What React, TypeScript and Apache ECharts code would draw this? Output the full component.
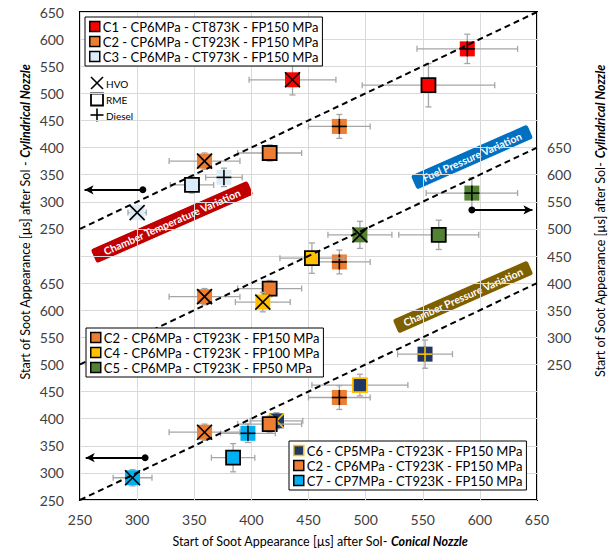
import React, { useEffect, useRef } from 'react';
import * as echarts from 'echarts';

const FONT = 'Lato, "Open Sans", sans-serif';
const FUELS = ['HVO', 'RME', 'Diesel'];

// Axis ranges (each panel spans 250..650 µs on its own axis)
const X_MIN = 250;
const X_MAX = 650;
const TICK = 50;
const STACK_MAX = 900; // stacked y domain: bottom 0..400, middle 250..650, top 500..900
const OFFSET_TOP = 250;
const OFFSET_MID = 0;
const OFFSET_BOT = -250;

// ---------- Panel 1 : Chamber temperature variation (left axis, top) ----------
const c1Name = 'C1 - CP6MPa - CT873K - FP150 MPa';
const c1Fuel = ['HVO', 'RME', 'Diesel'];
const c1X = [436, 555, 589];
const c1Y = [525, 515, 582];
const c1XErr = [38, 58, 44];
const c1YErr = [28, 40, 27];

const c2Name = 'C2 - CP6MPa - CT923K - FP150 MPa';
const c2Fuel = ['HVO', 'RME', 'Diesel'];
const c2X = [359, 416, 477];
const c2Y = [375, 390, 439];
const c2XErr = [31, 28, 27];
const c2YErr = [15, 15, 22];

const c3Name = 'C3 - CP6MPa - CT973K - FP150 MPa';
const c3Fuel = ['HVO', 'RME', 'Diesel'];
const c3X = [300, 348, 376];
const c3Y = [280, 331, 345];
const c3XErr = [8, 19, 16];
const c3YErr = [10, 15, 17];

// ---------- Panel 2 : Fuel pressure variation (right axis, middle) ----------
const c4Name = 'C4 - CP6MPa - CT923K - FP100 MPa';
const c4Fuel = ['HVO', 'RME'];
const c4X = [410, 453];
const c4Y = [365, 446];
const c4XErr = [24, 28];
const c4YErr = [18, 28];

const c5Name = 'C5 - CP6MPa - CT923K - FP50 MPa';
const c5Fuel = ['HVO', 'RME', 'Diesel'];
const c5X = [495, 564, 593];
const c5Y = [489, 489, 566];
const c5XErr = [28, 35, 40];
const c5YErr = [25, 27, 28];

// ---------- Panel 3 : Chamber pressure variation (left axis, bottom) ----------
const c6Name = 'C6 - CP5MPa - CT923K - FP150 MPa';
const c6Fuel = ['HVO', 'RME', 'Diesel'];
const c6X = [422, 495, 552];
const c6Y = [396, 462, 519];
const c6XErr = [23, 42, 24];
const c6YErr = [15, 20, 26];

const c7Name = 'C7 - CP7MPa - CT923K - FP150 MPa';
const c7Fuel = ['HVO', 'RME', 'Diesel'];
const c7X = [296, 384, 397];
const c7Y = [291, 328, 373];
const c7XErr = [17, 19, 24];
const c7YErr = [15, 26, 17];

// Arrows pointing to the axis to read: [xStart, xEnd, y] in panel units
const arrowTop = [305, 254, 322];
const arrowMid = [593, 646, 535];
const arrowBot = [307, 255, 328];

// Colours
const RED = '#FF0000';
const ORANGE = '#ED7D31';
const LIGHTBLUE = '#DDEBF7';
const YELLOW = '#FFC000';
const GREEN = '#548235';
const NAVY = '#203864';
const SKY = '#00B0F0';

function makeRender(fill: string, stroke: string) {
  return (params: any, api: any) => {
    const x = api.value(0);
    const y = api.value(1);
    const xe = api.value(2);
    const ye = api.value(3);
    const kind = api.value(4);
    const c = api.coord([x, y]);
    const l = api.coord([x - xe, y]);
    const r = api.coord([x + xe, y]);
    const t = api.coord([x, y + ye]);
    const b = api.coord([x, y - ye]);
    const eb = { stroke: '#A6A6A6', lineWidth: 1.3 };
    const cap = 3;
    const children: any[] = [
      { type: 'line', shape: { x1: l[0], y1: c[1], x2: r[0], y2: c[1] }, style: eb },
      { type: 'line', shape: { x1: l[0], y1: c[1] - cap, x2: l[0], y2: c[1] + cap }, style: eb },
      { type: 'line', shape: { x1: r[0], y1: c[1] - cap, x2: r[0], y2: c[1] + cap }, style: eb },
      { type: 'line', shape: { x1: c[0], y1: t[1], x2: c[0], y2: b[1] }, style: eb },
      { type: 'line', shape: { x1: c[0] - cap, y1: t[1], x2: c[0] + cap, y2: t[1] }, style: eb },
      { type: 'line', shape: { x1: c[0] - cap, y1: b[1], x2: c[0] + cap, y2: b[1] }, style: eb },
    ];
    if (kind === 1) {
      const s = 7;
      children.push({
        type: 'rect',
        shape: { x: c[0] - s, y: c[1] - s, width: 2 * s, height: 2 * s },
        style: { fill, stroke, lineWidth: 1.8 },
      });
    } else {
      const s = 7.5;
      children.push({
        type: 'rect',
        shape: { x: c[0] - s, y: c[1] - s, width: 2 * s, height: 2 * s },
        style: { fill },
      });
      const ms = { stroke, lineWidth: 1.6 };
      if (kind === 0) {
        children.push({ type: 'line', shape: { x1: c[0] - s, y1: c[1] - s, x2: c[0] + s, y2: c[1] + s }, style: ms });
        children.push({ type: 'line', shape: { x1: c[0] - s, y1: c[1] + s, x2: c[0] + s, y2: c[1] - s }, style: ms });
      } else {
        children.push({ type: 'line', shape: { x1: c[0] - s, y1: c[1], x2: c[0] + s, y2: c[1] }, style: ms });
        children.push({ type: 'line', shape: { x1: c[0], y1: c[1] - s, x2: c[0], y2: c[1] + s }, style: ms });
      }
    }
    return { type: 'group', children };
  };
}

function pointSeries(
  name: string, fill: string, stroke: string,
  fuels: string[], xs: number[], ys: number[], xe: number[], ye: number[], offset: number
) {
  return {
    type: 'custom',
    name,
    renderItem: makeRender(fill, stroke),
    data: xs.map((x, i) => [x, ys[i] + offset, xe[i], ye[i], FUELS.indexOf(fuels[i])]),
    encode: { x: 0, y: 1 },
    clip: false,
    silent: true,
  };
}

function diagSeries(offset: number, markLine?: any) {
  return {
    type: 'line',
    data: [[X_MIN, X_MIN + offset], [X_MAX, X_MAX + offset]],
    symbol: 'none',
    silent: true,
    lineStyle: { color: '#000', width: 2, type: [6, 4] },
    markLine,
  };
}

function arrowLine(a: number[], offset: number) {
  return [{ coord: [a[0], a[2] + offset] }, { coord: [a[1], a[2] + offset] }];
}

function legendItem(name: string, fill: string, stroke: string) {
  return { name, icon: 'rect', itemStyle: { color: fill, borderColor: stroke, borderWidth: 1.5 } };
}

const legendBase = {
  orient: 'vertical',
  backgroundColor: '#fff',
  borderColor: '#000',
  borderWidth: 1,
  padding: [3, 4, 3, 4],
  itemGap: 2,
  itemWidth: 10,
  itemHeight: 10,
  selectedMode: false,
  textStyle: { fontFamily: FONT, fontSize: 13, color: '#000', padding: [0, 0, 0, -2] },
};

function banner(text: string, color: string, x: number, y: number, w: number) {
  const h = 16;
  return {
    type: 'group',
    x,
    y,
    rotation: 0.415,
    children: [
      {
        type: 'rect',
        shape: { x: -w / 2, y: -h / 2, width: w, height: h, r: 3 },
        style: { fill: color, stroke: '#fff', lineWidth: 1 },
      },
      {
        type: 'text',
        x: 0,
        y: 0,
        style: {
          text, fill: '#fff', fontFamily: FONT, fontWeight: 'bold', fontSize: 10.5,
          align: 'center', verticalAlign: 'middle', lineHeight: 12,
        },
      },
    ],
  };
}

const titleRich = {
  a: { fontFamily: FONT, fontSize: 12.5, color: '#404040' },
  b: { fontFamily: FONT, fontSize: 12.5, color: '#0070C0', fontWeight: 'bold', fontStyle: 'italic' },
};

export default function App() {
  const ref = useRef<HTMLDivElement>(null);
  useEffect(() => {
    document.body.style.margin = '0';
    const chart = echarts.init(ref.current!, null, { renderer: 'svg' });
    const option: any = {
      animation: false,
      backgroundColor: '#fff',
      textStyle: { fontFamily: FONT },
      grid: {
        left: 80, right: 75, top: 12, bottom: 54,
        show: true, borderColor: '#000', borderWidth: 2,
        containLabel: false, outerBoundsMode: 'none',
      },
      xAxis: {
        type: 'value', min: X_MIN, max: X_MAX, interval: TICK,
        axisLine: { show: false }, axisTick: { show: false },
        splitLine: { show: true, lineStyle: { color: '#D9D9D9', width: 1 } },
        axisLabel: { margin: 12, fontSize: 14, color: '#404040', fontFamily: FONT },
      },
      yAxis: [
        {
          type: 'value', min: 0, max: STACK_MAX, interval: TICK, position: 'left',
          axisLine: { show: false }, axisTick: { show: false },
          splitLine: { show: true, lineStyle: { color: '#D9D9D9', width: 1 } },
          axisLabel: {
            margin: 16, fontSize: 14, color: '#404040', fontFamily: FONT,
            formatter: (v: number) => (v <= 400 ? String(v - OFFSET_BOT) : v >= 500 ? String(v - OFFSET_TOP) : ''),
          },
        },
        {
          type: 'value', min: 0, max: STACK_MAX, interval: TICK, position: 'right',
          axisLine: { show: false }, axisTick: { show: false }, splitLine: { show: false },
          axisLabel: {
            margin: 10, fontSize: 14, color: '#404040', fontFamily: FONT,
            formatter: (v: number) => (v >= 250 + OFFSET_MID && v <= 650 + OFFSET_MID ? String(v - OFFSET_MID) : ''),
          },
        },
      ],
      legend: [
        { ...legendBase, left: 85, top: 17, data: [legendItem(c1Name, RED, '#000'), legendItem(c2Name, ORANGE, '#000'), legendItem(c3Name, LIGHTBLUE, '#000')] },
        { ...legendBase, left: 86, top: 328, data: [legendItem(c2Name, ORANGE, '#000'), legendItem(c4Name, YELLOW, '#000'), legendItem(c5Name, GREEN, '#000')] },
        { ...legendBase, left: 289, top: 441, data: [legendItem(c6Name, NAVY, YELLOW), legendItem(c2Name, ORANGE, '#000'), legendItem(c7Name, SKY, '#000')] },
      ],
      series: [
        diagSeries(OFFSET_TOP, {
          silent: true,
          symbol: ['circle', 'arrow'],
          symbolSize: [7, 9],
          label: { show: false },
          lineStyle: { color: '#000', width: 2, type: 'solid' },
          data: [arrowLine(arrowTop, OFFSET_TOP), arrowLine(arrowMid, OFFSET_MID), arrowLine(arrowBot, OFFSET_BOT)],
        }),
        diagSeries(OFFSET_MID),
        diagSeries(OFFSET_BOT),
        pointSeries(c1Name, RED, '#000', c1Fuel, c1X, c1Y, c1XErr, c1YErr, OFFSET_TOP),
        pointSeries(c2Name, ORANGE, '#000', c2Fuel, c2X, c2Y, c2XErr, c2YErr, OFFSET_TOP),
        pointSeries(c3Name, LIGHTBLUE, '#000', c3Fuel, c3X, c3Y, c3XErr, c3YErr, OFFSET_TOP),
        pointSeries(c2Name, ORANGE, '#000', c2Fuel, c2X, c2Y, c2XErr, c2YErr, OFFSET_MID),
        pointSeries(c4Name, YELLOW, '#000', c4Fuel, c4X, c4Y, c4XErr, c4YErr, OFFSET_MID),
        pointSeries(c5Name, GREEN, '#000', c5Fuel, c5X, c5Y, c5XErr, c5YErr, OFFSET_MID),
        pointSeries(c6Name, NAVY, YELLOW, c6Fuel, c6X, c6Y, c6XErr, c6YErr, OFFSET_BOT),
        pointSeries(c2Name, ORANGE, '#000', c2Fuel, c2X, c2Y, c2XErr, c2YErr, OFFSET_BOT),
        pointSeries(c7Name, SKY, '#000', c7Fuel, c7X, c7Y, c7XErr, c7YErr, OFFSET_BOT),
      ],
      graphic: [
        // fuel marker key
        { type: 'line', shape: { x1: 91, y1: 77, x2: 103, y2: 89 }, style: { stroke: '#000', lineWidth: 1.6 } },
        { type: 'line', shape: { x1: 91, y1: 89, x2: 103, y2: 77 }, style: { stroke: '#000', lineWidth: 1.6 } },
        { type: 'text', x: 106, y: 84, style: { text: 'HVO', fontFamily: FONT, fontSize: 10, fill: '#000', verticalAlign: 'middle' } },
        { type: 'rect', shape: { x: 91, y: 93.5, width: 12, height: 12 }, style: { fill: '#fff', stroke: '#000', lineWidth: 1.8 } },
        { type: 'text', x: 106, y: 100, style: { text: 'RME', fontFamily: FONT, fontSize: 10, fill: '#000', verticalAlign: 'middle' } },
        { type: 'line', shape: { x1: 90.5, y1: 115, x2: 103.5, y2: 115 }, style: { stroke: '#000', lineWidth: 1.6 } },
        { type: 'line', shape: { x1: 97, y1: 108.5, x2: 97, y2: 121.5 }, style: { stroke: '#000', lineWidth: 1.6 } },
        { type: 'text', x: 106, y: 116, style: { text: 'Diesel', fontFamily: FONT, fontSize: 10, fill: '#000', verticalAlign: 'middle' } },
        // variation banners
        banner('Chamber Temperature Variation', '#C00000', 172, 222, 172),
        banner('Fuel Pressure Variation', '#0070C0', 472, 157, 128),
        banner('Chamber Pressure Variation', '#7F6000', 463, 297, 148),
        // axis titles
        {
          type: 'text', x: 320, y: 541,
          style: { text: '{a|Start of Soot Appearance [µs] after SoI- }{b|Conical Nozzle}', rich: titleRich, align: 'center', verticalAlign: 'middle' },
        },
        {
          type: 'text', x: 25, y: 222, rotation: Math.PI / 2,
          style: { text: '{a|Start of Soot Appearance [µs] after SoI - }{b|Cylindrical Nozzle}', rich: titleRich, align: 'center', verticalAlign: 'middle' },
        },
        {
          type: 'text', x: 600, y: 221, rotation: Math.PI / 2,
          style: { text: '{a|Start of Soot Appearance [µs] after SoI- }{b|Cylindrical Nozzle}', rich: titleRich, align: 'center', verticalAlign: 'middle' },
        },
      ],
    };
    chart.setOption(option);
    return () => chart.dispose();
  }, []);
  return <div ref={ref} style={{ width: 612, height: 554 }} />;
}
